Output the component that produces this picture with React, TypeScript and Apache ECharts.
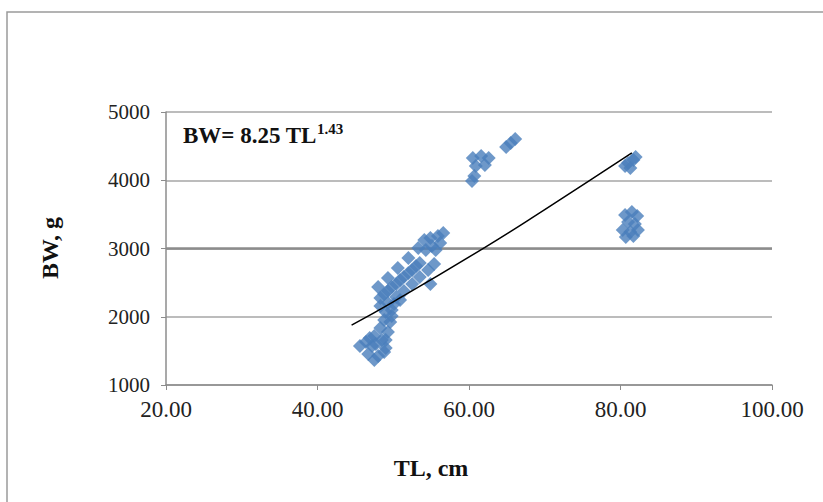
import React, { useEffect, useRef } from "react";
import * as echarts from "echarts";

// Tick labels / axis configuration values
const xTicks = [20, 40, 60, 80, 100];
const yTicks = [1000, 2000, 3000, 4000, 5000];

// Observed fish: total length (cm)
const tl = [
  // main band, upper edge
  48.0, 49.3, 50.6, 52.0, 53.3, 54.1, 54.9, 55.9, 56.6,
  // main band, centre
  48.3, 49.3, 50.4, 51.4, 52.5, 53.5, 55.6, 56.2,
  48.8, 49.8, 50.9, 52.0, 53.0, 55.1, 54.3,
  // main band, lower edge
  49.3, 50.4, 51.4, 52.5, 53.5, 54.6, 55.4, 54.9, 50.1, 50.9,
  // lower stem
  48.3, 49.0, 49.8, 48.8, 49.6, 48.3, 49.3, 47.5, 48.5, 46.4, 45.6, 47.2, 49.0,
  46.7, 48.0, 48.8, 47.5, 47.7, 46.9, 49.8, 49.0,
  // upper-middle cluster
  60.5, 61.6, 62.6, 60.9, 62.1, 60.7, 60.4, 64.9, 65.5, 66.1,
  // right cluster, upper
  81.0, 81.7, 82.0, 81.3, 80.6,
  // right cluster, lower
  80.6, 81.5, 82.2, 81.0, 81.9, 80.3, 81.3, 82.3, 80.7, 81.7,
];

// Observed fish: body weight (g)
const bw = [
  2436, 2568, 2714, 2861, 3007, 3125, 3154, 3183, 3227,
  2275, 2377, 2480, 2582, 2685, 2787, 2978, 3081,
  2333, 2436, 2538, 2641, 2744, 3037, 2978,
  2201, 2289, 2377, 2480, 2582, 2685, 2773, 2480, 2187, 2245,
  2157, 2070, 2099, 1952, 1923, 1835, 1777, 1718, 1659, 1630, 1571, 1571, 1542,
  1454, 1425, 1484, 1366, 1601, 1689, 2011, 1659,
  4326, 4355, 4326, 4209, 4223, 4062, 3989, 4487, 4546, 4604,
  4253, 4297, 4341, 4179, 4209,
  3491, 3535, 3476, 3388, 3359, 3271, 3242, 3271, 3168, 3183,
];

// Fitted power curve BW = 8.25 TL^1.43
const trendTL = [44.5, 50, 62, 70, 81.5];
const trendBW = [1878, 2218, 3010, 3570, 4400];

export default function App() {
  const ref = useRef<HTMLDivElement>(null);
  useEffect(() => {
    if (!ref.current) return;
    const chart = echarts.init(ref.current, undefined, { renderer: "svg" });
    const font = "'Liberation Serif', 'Times New Roman', serif";
    chart.setOption({
      animation: false,
      backgroundColor: "#ffffff",
      textStyle: { fontFamily: font },
      grid: { left: 166, right: 51, top: 112, bottom: 117, containLabel: false },
      xAxis: {
        type: "value",
        min: xTicks[0],
        max: xTicks[xTicks.length - 1],
        interval: 20,
        axisLine: { show: true, lineStyle: { color: "#8c8c8c", width: 1.5 } },
        axisTick: { show: true, inside: false, length: 5, lineStyle: { color: "#8c8c8c" } },
        axisLabel: {
          fontFamily: font,
          fontSize: 23,
          color: "#222",
          margin: 13,
          formatter: (v: number) => v.toFixed(2),
        },
        splitLine: { show: false },
      },
      yAxis: {
        type: "value",
        min: yTicks[0],
        max: yTicks[yTicks.length - 1],
        interval: 1000,
        axisLine: { show: true, lineStyle: { color: "#8c8c8c", width: 1.5 } },
        axisTick: { show: true, inside: false, length: 5, lineStyle: { color: "#8c8c8c" } },
        axisLabel: {
          fontFamily: font,
          fontSize: 21,
          color: "#222",
          margin: 16,
          formatter: (v: number) => String(v),
        },
        splitLine: { show: true, lineStyle: { color: "#a6a6a6", width: 1.5 } },
      },
      graphic: [
        {
          type: "rect",
          shape: { x: 7, y: 12, width: 840, height: 520 },
          style: { fill: "none", stroke: "#9a9a9a", lineWidth: 1.5 },
          silent: true,
          z: -1,
        },
        {
          type: "text",
          x: 183,
          y: 121,
          style: {
            text: "{a|BW= 8.25 TL}{b|1.43}",
            rich: {
              a: { fontFamily: font, fontSize: 23, fontWeight: "bold", fill: "#111", verticalAlign: "bottom", lineHeight: 26 },
              b: { fontFamily: font, fontSize: 15, fontWeight: "bold", fill: "#111", verticalAlign: "top", lineHeight: 26, padding: [0, 0, 12, 0] },
            },
          },
        },
        {
          type: "text",
          x: 431,
          y: 468,
          style: {
            text: "TL, cm",
            fontFamily: font,
            fontSize: 24,
            fontWeight: "bold",
            fill: "#111",
            align: "center",
            verticalAlign: "middle",
          },
        },
        {
          type: "text",
          x: 50,
          y: 248,
          rotation: Math.PI / 2,
          style: {
            text: "BW, g",
            fontFamily: font,
            fontSize: 24,
            fontWeight: "bold",
            fill: "#111",
            align: "center",
            verticalAlign: "middle",
          },
        },
      ],
      series: [
        {
          type: "scatter",
          symbol: "diamond",
          symbolSize: 14,
          itemStyle: { color: "#4a7ebb" },
          data: tl.map((x, i) => [x, bw[i]]),
          markLine: {
            silent: true,
            symbol: "none",
            label: { show: false },
            lineStyle: { color: "#8c8c8c", width: 2.5, type: "solid" },
            data: [{ yAxis: 3000 }],
            z: 1,
          },
          z: 3,
        },
        {
          type: "line",
          data: trendTL.map((x, i) => [x, trendBW[i]]),
          smooth: true,
          showSymbol: false,
          lineStyle: { color: "#000", width: 1.5 },
          z: 4,
        },
      ],
    });
    return () => chart.dispose();
  }, []);
  return (
    <div
      ref={ref}
      style={{ position: "absolute", left: 0, top: 0, width: 823, height: 502 }}
    />
  );
}
